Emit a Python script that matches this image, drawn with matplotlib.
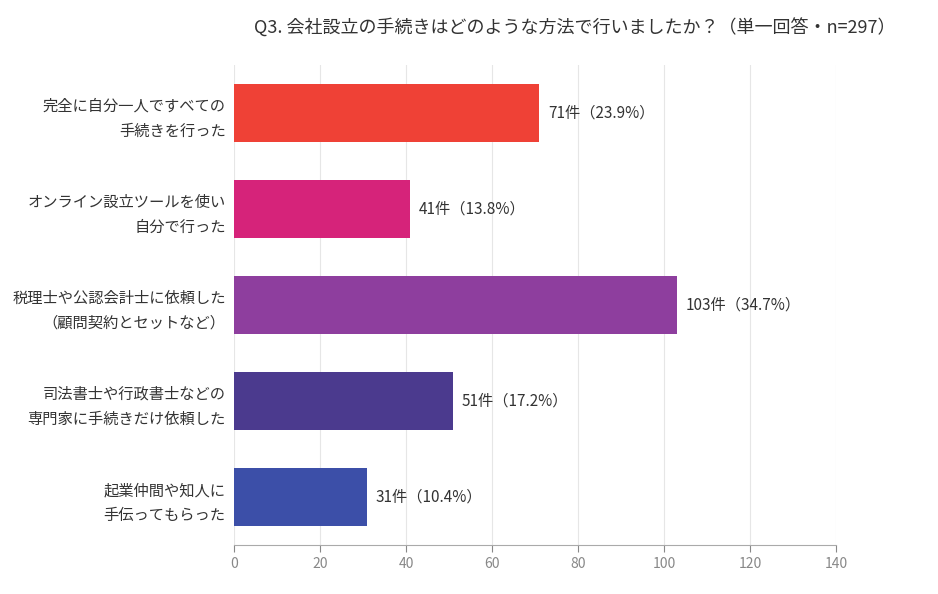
import matplotlib
matplotlib.use("Agg")
import matplotlib.pyplot as plt

plt.rcParams['font.family'] = ['Noto Sans CJK JP', 'DejaVu Sans']

categories = ["完全に自分一人ですべての\n手続きを行った",
              "オンライン設立ツールを使い\n自分で行った",
              "税理士や公認会計士に依頼した\n（顧問契約とセットなど）",
              "司法書士や行政書士などの\n専門家に手続きだけ依頼した",
              "起業仲間や知人に\n手伝ってもらった"]
counts = [71, 41, 103, 51, 31]
pcts = [23.9, 13.8, 34.7, 17.2, 10.4]
colors = ["#EF4136", "#D6237A", "#8E3E9E", "#4B3A8E", "#3C4FA8"]
xticks = [0, 20, 40, 60, 80, 100, 120, 140]

fig = plt.figure(figsize=(9.38, 5.94), dpi=100)
ax = fig.add_axes([234/938, 1-545/594, 602/938, (545-65)/594])
y = list(range(len(categories)))
ax.barh(y, counts, height=0.61, color=colors, zorder=3)
for yi, c, p in zip(y, counts, pcts):
    ax.text(c + 2, yi, f"{c}件（{p}%）", va='center', ha='left', fontsize=11, color='#333333')
ax.set_yticks(y)
ax.set_yticklabels(categories, fontsize=11, color='#333333', linespacing=1.6)
ax.set_ylim(4.5, -0.5)
ax.set_xlim(0, 140)
ax.set_xticks(xticks)
ax.tick_params(axis='x', colors='#888888', labelsize=10, length=5)
ax.tick_params(axis='y', length=0, pad=6)
ax.grid(axis='x', color='#e6e6e6', zorder=0)
for s in ['top', 'right', 'left']:
    ax.spines[s].set_visible(False)
ax.spines['bottom'].set_color('#aaaaaa')
fig.text(575/938, 1-28/594, "Q3. 会社設立の手続きはどのような方法で行いましたか？（単一回答・n=297）",
         ha='center', va='center', fontsize=13, color='#333333')
fig.savefig("out.png", dpi=100)
